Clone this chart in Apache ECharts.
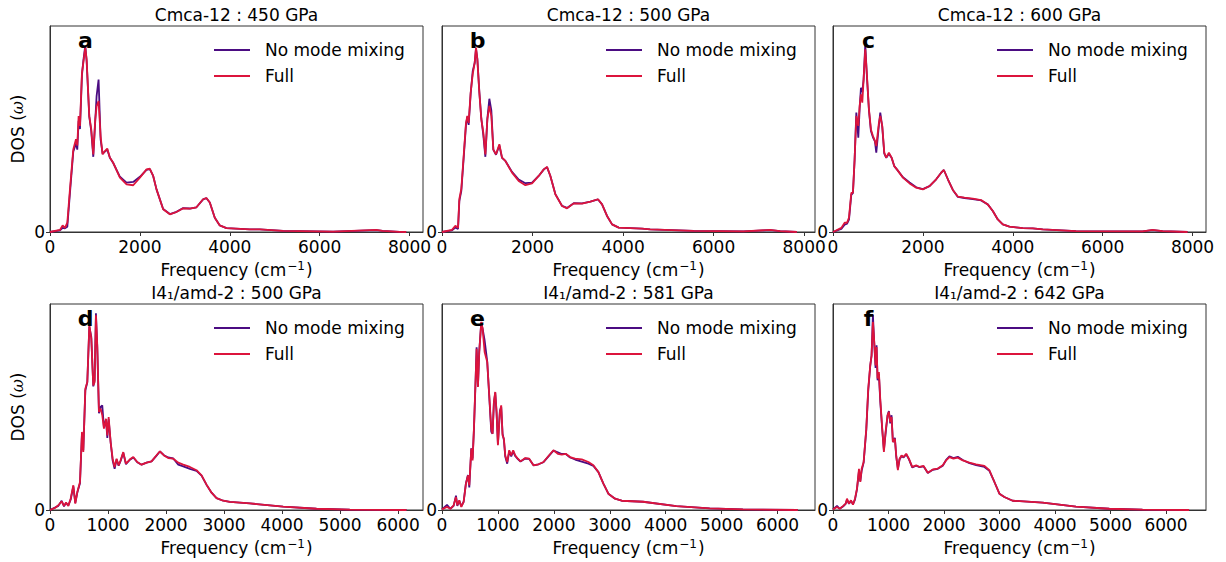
<!DOCTYPE html>
<html>
<head>
<meta charset="utf-8">
<script src="https://cdn.jsdelivr.net/npm/echarts@6/dist/echarts.min.js"></script>
<style>html,body{margin:0;padding:0;background:#fff;}#c{width:1226px;height:562px;}</style>
</head>
<body>
<div id="c"></div>
<script>
// ---------- data (DOS in units of axis height) ----------
const titles = ['Cmca-12 : 450 GPa','Cmca-12 : 500 GPa','Cmca-12 : 600 GPa','I4\u2081/amd-2 : 500 GPa','I4\u2081/amd-2 : 581 GPa','I4\u2081/amd-2 : 642 GPa'];
const letters = ['a','b','c','d','e','f'];
const seriesNames = ['No mode mixing','Full'];
const topTicks = [0,2000,4000,6000,8000];
const bottomTicks = [0,1000,2000,3000,4000,5000,6000];
const xMax = [8300, 8240, 8300, 6430, 6670, 6720];

const freqA = [0,222,281,333,385,444,518,578,607,637,667,711,741,785,815,874,918,963,1007,1037,1081,1126,1170,1222,1274,1333,1407,1556,1704,1852,2000,2148,2222,2296,2370,2518,2667,2815,2963,3111,3259,3407,3481,3556,3667,3778,3926,4444,4667,5185,6300,7259,7400,7778,7926];
const fullA  = [0,0.01,0.032,0.02,0.045,0.207,0.40,0.45,0.42,0.563,0.515,0.773,0.82,0.895,0.838,0.563,0.499,0.377,0.547,0.61,0.636,0.466,0.377,0.393,0.405,0.361,0.336,0.264,0.231,0.227,0.264,0.304,0.307,0.272,0.207,0.110,0.086,0.097,0.115,0.113,0.12,0.159,0.165,0.143,0.069,0.032,0.019,0.013,0.013,0.005,0.002,0.01,0.005,0.001,0];
const nomixA = [0,0.008,0.02,0.018,0.025,0.19,0.39,0.43,0.40,0.54,0.50,0.76,0.83,0.905,0.83,0.56,0.49,0.365,0.54,0.66,0.74,0.45,0.38,0.39,0.40,0.36,0.335,0.268,0.24,0.243,0.268,0.302,0.305,0.272,0.207,0.112,0.087,0.098,0.116,0.114,0.12,0.158,0.164,0.143,0.069,0.032,0.019,0.013,0.013,0.005,0.002,0.009,0.005,0.001,0];

const freqB = [0,221,295,354,383,427,479,530,560,589,633,678,722,751,781,825,869,913,958,1002,1046,1090,1134,1193,1267,1326,1400,1547,1694,1842,1989,2136,2247,2320,2394,2504,2652,2762,2910,3094,3278,3447,3536,3646,3757,3904,4420,4597,5554,6659,7249,7470,7839];
const fullB  = [0,0.01,0.03,0.02,0.16,0.21,0.37,0.53,0.563,0.53,0.676,0.765,0.822,0.895,0.838,0.676,0.547,0.482,0.377,0.547,0.612,0.563,0.40,0.377,0.426,0.361,0.345,0.288,0.248,0.227,0.236,0.272,0.304,0.316,0.272,0.183,0.126,0.115,0.139,0.138,0.147,0.159,0.134,0.078,0.037,0.021,0.016,0.013,0.005,0.003,0.01,0.004,0];
const nomixB = [0,0.008,0.022,0.015,0.15,0.20,0.36,0.52,0.56,0.52,0.67,0.78,0.82,0.89,0.84,0.68,0.55,0.47,0.365,0.55,0.647,0.59,0.40,0.375,0.42,0.36,0.345,0.292,0.255,0.237,0.24,0.272,0.303,0.315,0.272,0.184,0.127,0.117,0.14,0.139,0.147,0.158,0.134,0.078,0.037,0.021,0.016,0.013,0.005,0.003,0.009,0.004,0];

const freqC = [0,185,259,311,356,407,444,481,519,563,593,622,652,681,718,756,800,844,889,933,963,1022,1052,1096,1141,1185,1244,1304,1363,1422,1556,1704,1852,2000,2148,2296,2407,2467,2556,2667,2778,2926,3111,3296,3444,3556,3667,3778,3926,4222,4444,4667,5407,6889,7111,7333,7889];
const fullC  = [0,0.02,0.045,0.045,0.07,0.19,0.19,0.353,0.563,0.515,0.612,0.668,0.628,0.741,0.887,0.757,0.595,0.498,0.466,0.442,0.417,0.531,0.563,0.515,0.385,0.361,0.385,0.361,0.32,0.304,0.264,0.236,0.215,0.207,0.223,0.256,0.288,0.301,0.256,0.204,0.172,0.167,0.162,0.155,0.134,0.102,0.061,0.037,0.026,0.019,0.018,0.013,0.004,0.003,0.01,0.004,0];
const nomixC = [0,0.015,0.035,0.04,0.06,0.18,0.19,0.35,0.58,0.458,0.60,0.70,0.68,0.74,0.91,0.75,0.59,0.49,0.46,0.44,0.385,0.52,0.58,0.51,0.38,0.36,0.38,0.36,0.32,0.304,0.266,0.24,0.217,0.208,0.223,0.256,0.288,0.301,0.256,0.204,0.17,0.165,0.16,0.153,0.134,0.102,0.061,0.037,0.026,0.019,0.018,0.013,0.004,0.003,0.009,0.004,0];

const freqD = [0,86,144,201,241,276,316,356,402,436,471,517,551,574,609,643,678,712,746,769,792,815,844,873,901,930,965,988,1011,1045,1080,1114,1148,1183,1217,1263,1309,1378,1436,1504,1579,1665,1751,1826,1895,1964,2038,2125,2211,2297,2412,2526,2613,2699,2785,2871,2986,3101,3445,4019,4594,5168,6145];
const fullD  = [0,0.01,0.023,0.042,0.02,0.036,0.02,0.055,0.12,0.031,0.087,0.136,0.379,0.282,0.589,0.621,0.896,0.832,0.605,0.621,0.945,0.8,0.476,0.492,0.46,0.395,0.443,0.362,0.451,0.33,0.249,0.209,0.249,0.217,0.241,0.281,0.225,0.246,0.257,0.233,0.22,0.23,0.236,0.262,0.285,0.265,0.252,0.249,0.23,0.22,0.209,0.193,0.168,0.123,0.084,0.058,0.045,0.039,0.032,0.016,0.006,0.002,0];
const nomixD = [0,0.012,0.02,0.045,0.018,0.034,0.022,0.05,0.115,0.035,0.085,0.13,0.37,0.29,0.58,0.62,0.89,0.84,0.60,0.63,0.955,0.79,0.47,0.50,0.508,0.40,0.44,0.35,0.44,0.33,0.24,0.20,0.245,0.215,0.238,0.278,0.222,0.244,0.255,0.232,0.22,0.23,0.236,0.26,0.284,0.266,0.255,0.25,0.22,0.212,0.20,0.19,0.167,0.122,0.084,0.058,0.045,0.039,0.032,0.016,0.006,0.002,0];

const freqE = [0,89,149,208,250,274,309,345,387,428,464,488,524,547,571,595,619,643,666,702,726,762,809,845,881,904,928,952,976,1000,1035,1059,1083,1107,1131,1166,1202,1238,1273,1309,1357,1404,1488,1559,1636,1726,1815,1904,1993,2071,2142,2213,2291,2380,2499,2618,2707,2797,2886,2975,3094,3213,3595,4190,4786,5381,6363];
const fullE  = [0.003,0.015,0.006,0.023,0.063,0.023,0.047,0.015,0.039,0.128,0.168,0.12,0.298,0.241,0.395,0.589,0.783,0.597,0.767,0.913,0.88,0.767,0.718,0.557,0.395,0.37,0.524,0.573,0.476,0.314,0.476,0.508,0.362,0.346,0.265,0.233,0.29,0.265,0.29,0.265,0.249,0.236,0.252,0.249,0.217,0.222,0.233,0.262,0.29,0.273,0.269,0.273,0.257,0.249,0.246,0.233,0.217,0.184,0.128,0.079,0.055,0.045,0.04,0.019,0.008,0.003,0];
const nomixE = [0.003,0.025,0.006,0.02,0.07,0.02,0.045,0.018,0.04,0.13,0.17,0.11,0.30,0.25,0.39,0.58,0.79,0.60,0.77,0.91,0.88,0.824,0.72,0.55,0.38,0.37,0.52,0.57,0.47,0.32,0.48,0.50,0.37,0.34,0.26,0.225,0.285,0.26,0.285,0.262,0.247,0.235,0.25,0.248,0.217,0.222,0.232,0.26,0.288,0.28,0.272,0.272,0.255,0.245,0.235,0.225,0.214,0.184,0.128,0.079,0.055,0.045,0.04,0.019,0.008,0.003,0];

const freqF = [0,72,120,180,228,252,288,324,360,396,432,468,492,516,552,600,635,671,695,719,743,767,785,803,827,851,887,917,947,983,1007,1031,1055,1079,1115,1139,1169,1199,1235,1271,1319,1367,1427,1499,1559,1631,1708,1798,1888,1978,2038,2098,2170,2248,2338,2458,2578,2728,2818,2908,2998,3087,3237,3777,4377,4977,5576,6415];
const fullF  = [0.003,0.015,0.006,0.019,0.031,0.055,0.031,0.047,0.026,0.055,0.104,0.2,0.136,0.2,0.233,0.395,0.589,0.702,0.751,0.913,0.816,0.702,0.791,0.638,0.67,0.54,0.395,0.282,0.379,0.46,0.476,0.427,0.451,0.33,0.346,0.265,0.193,0.249,0.265,0.257,0.273,0.249,0.209,0.217,0.209,0.214,0.181,0.197,0.201,0.217,0.241,0.257,0.249,0.254,0.241,0.23,0.222,0.214,0.193,0.136,0.079,0.063,0.045,0.036,0.016,0.006,0.002,0];
const nomixF = [0.003,0.02,0.006,0.017,0.03,0.05,0.03,0.045,0.028,0.05,0.10,0.19,0.14,0.19,0.23,0.39,0.58,0.70,0.75,0.948,0.81,0.69,0.80,0.63,0.66,0.53,0.39,0.29,0.37,0.46,0.48,0.42,0.46,0.33,0.35,0.26,0.20,0.245,0.262,0.255,0.27,0.247,0.207,0.215,0.208,0.212,0.18,0.195,0.2,0.215,0.243,0.26,0.252,0.258,0.243,0.227,0.218,0.209,0.19,0.136,0.079,0.063,0.045,0.036,0.016,0.006,0.002,0];

const panelFreq = [freqA,freqB,freqC,freqD,freqE,freqF];
const panelFull = [fullA,fullB,fullC,fullD,fullE,fullF];
const panelNomix = [nomixA,nomixB,nomixC,nomixD,nomixE,nomixF];

// ---------- layout ----------
const FONT = 'DejaVu Sans';
const lefts = [50, 442, 833];
const tops = [26, 304];
const W = 373, H = 206;
const spine = '#333333';
const colors = ['#4b0c82', '#dc143c'];

const grids = [], xAxes = [], yAxes = [], series = [], legends = [], titleArr = [];
for (let i = 0; i < 6; i++) {
  const col = i % 3, row = Math.floor(i / 3);
  const L = lefts[col], T = tops[row];
  grids.push({left: L, top: T, width: W, height: H, show: true, borderColor: spine, borderWidth: 1, backgroundColor: 'transparent'});
  const ticks = row === 0 ? topTicks : bottomTicks;
  xAxes.push({
    type: 'value', gridIndex: i, min: 0, max: xMax[i],
    name: 'Frequency (cm{sup|\u22121})', nameLocation: 'middle', nameGap: 28,
    nameTextStyle: {fontFamily: FONT, fontSize: 17, color: '#000', lineHeight: 20,
      rich: {sup: {fontFamily: FONT, fontSize: 12, color: '#000', verticalAlign: 'top', lineHeight: 20, padding: [0, 1, 8, 1]}}},
    axisLine: {show: true, onZero: false, lineStyle: {color: spine, width: 1}},
    axisTick: {show: true, length: 4, inside: false, lineStyle: {color: spine}, customValues: ticks},
    axisLabel: {show: true, fontFamily: FONT, fontSize: 17, color: '#000', margin: 6, customValues: ticks, formatter: v => String(v)},
    splitLine: {show: false}
  });
  yAxes.push({
    type: 'value', gridIndex: i, min: 0, max: 1,
    name: col === 0 ? 'DOS ({it|\u03C9})' : '', nameLocation: 'middle', nameGap: 24, nameRotate: 90,
    nameTextStyle: {fontFamily: FONT, fontSize: 17, color: '#000', rich: {it: {fontFamily: 'DejaVu Serif', fontStyle: 'italic', fontSize: 16, color: '#000'}}},
    axisLine: {show: true, lineStyle: {color: spine, width: 1}},
    axisTick: {show: true, length: 4, lineStyle: {color: spine}, customValues: [0]},
    axisLabel: {show: true, fontFamily: FONT, fontSize: 17, color: '#000', margin: 5, customValues: [0], formatter: v => String(v)},
    splitLine: {show: false}
  });
  const fr = panelFreq[i];
  series.push({
    name: seriesNames[0], type: 'line', xAxisIndex: i, yAxisIndex: i, symbol: 'none', showSymbol: false,
    lineStyle: {color: colors[0], width: 1.8}, itemStyle: {color: colors[0]}, animation: false,
    data: fr.map((f, j) => [f, panelNomix[i][j]])
  });
  series.push({
    name: seriesNames[1], type: 'line', xAxisIndex: i, yAxisIndex: i, symbol: 'none', showSymbol: false,
    lineStyle: {color: colors[1], width: 1.8}, itemStyle: {color: colors[1]}, animation: false,
    data: fr.map((f, j) => [f, panelFull[i][j]])
  });
  legends.push({
    data: seriesNames, orient: 'vertical', left: L + 164, top: T + 14, padding: 0,
    icon: 'rect', itemWidth: 36, itemHeight: 2, itemGap: 6, selectedMode: false,
    textStyle: {fontFamily: FONT, fontSize: 17, color: '#000', lineHeight: 20, padding: [0, 0, 0, 10]}
  });
  titleArr.push({
    text: titles[i], left: L + W / 2, top: T - 20, textAlign: 'center', padding: 0,
    textStyle: {fontFamily: FONT, fontSize: 17, fontWeight: 'normal', color: '#000'}
  });
  titleArr.push({
    text: letters[i], left: L + 35.5, top: T + 3, textAlign: 'center', padding: 0,
    textStyle: {fontFamily: FONT, fontSize: 22, fontWeight: 'bold', color: '#000'}
  });
}

const chart = echarts.init(document.getElementById('c'), null, {renderer: 'svg'});
chart.setOption({
  animation: false,
  backgroundColor: '#fff',
  title: titleArr,
  legend: legends,
  grid: grids,
  xAxis: xAxes,
  yAxis: yAxes,
  series: series
});
</script>
</body>
</html>
